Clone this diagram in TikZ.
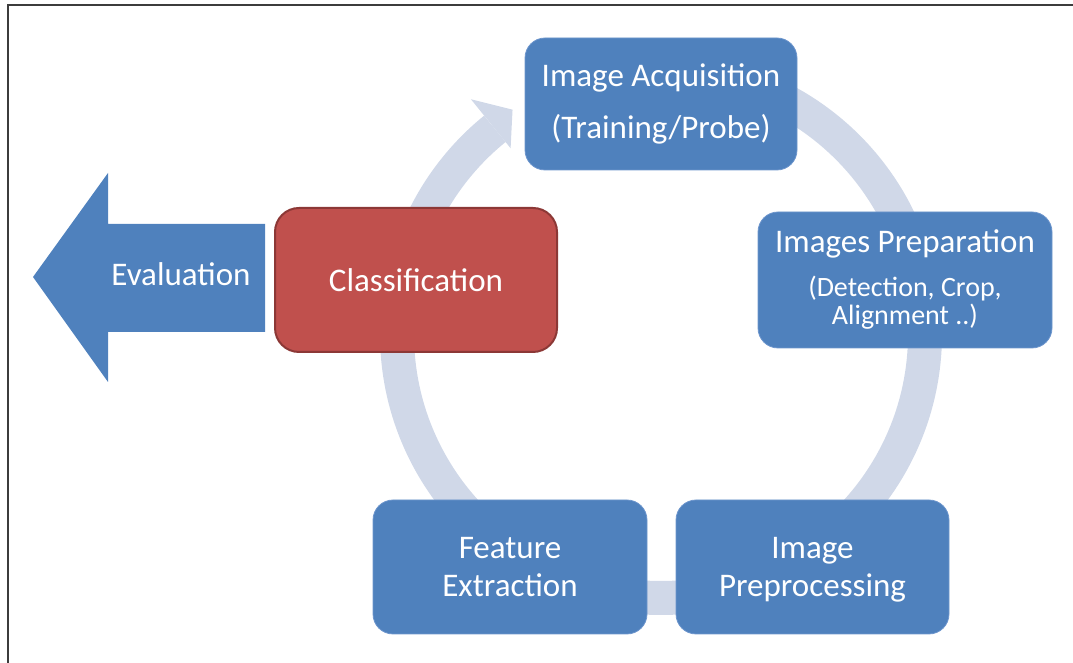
\documentclass[tikz,border=0pt]{standalone}
\usepackage{fontspec}
\setmainfont{Carlito}
\definecolor{boxblue}{RGB}{79,129,189}
\definecolor{boxline}{RGB}{110,150,205}
\definecolor{ringblue}{RGB}{208,216,232}
\definecolor{clsred}{RGB}{192,80,77}
\definecolor{clsedge}{RGB}{140,56,54}
\definecolor{framegray}{RGB}{60,60,60}
\begin{document}
\begin{tikzpicture}[x=1pt,y=1pt,
  stage/.style={rectangle, rounded corners=20pt, fill=boxblue, draw=boxline,
    line width=0.8pt, text=white, align=center, inner sep=0pt,
    font=\fontsize{33}{38}\selectfont},
  redstage/.style={stage, fill=clsred, draw=clsedge, line width=2pt,
    rounded corners=24pt},
  ring/.style={ringblue, line width=34pt}]
\useasboundingbox (0,0) rectangle (1073,663);

% page frame
\draw[framegray, line width=2.5pt] (8,0) -- (8,658) -- (1073,658);

% circular process arrow
\coordinate (hub) at (661,329);
\draw[ring] ([shift={(90:264)}]hub) arc[start angle=90, end angle=-231, radius=264];
\fill[ringblue] ([shift={(-231:239)}]hub) -- ([shift={(-231:302)}]hub)
  -- ([shift={(-236.5:269)}]hub) -- cycle;

% evaluation output arrow
\fill[boxblue] (33,386) -- (108,490) -- (108,439) -- (265,439) -- (265,331)
  -- (108,331) -- (108,281) -- cycle;
\node[text=white, anchor=base, font=\fontsize{33}{38}\selectfont] (eval) at (181,377) {Evaluation};

% process stages
\node[stage, minimum width=272pt, minimum height=132pt,
  font=\fontsize{33}{52}\selectfont] (acq) at (661,559)
  {Image Acquisition\\(Training/Probe)};
\node[stage, minimum width=294pt, minimum height=136pt,
  font=\fontsize{33}{44}\selectfont] (prep) at (905,383)
  {Images Preparation\\{\fontsize{28}{34}\selectfont (Detection, Crop,}\\[-16pt]{\fontsize{28}{34}\selectfont Alignment ..)}};
\node[stage, minimum width=273pt, minimum height=134pt] (preproc) at (812.5,96)
  {Image\\\raisebox{0pt}[\height][0pt]{Preprocessing}};
\node[stage, minimum width=274pt, minimum height=134pt] (feat) at (510,96)
  {Feature\\Extraction};
\node[redstage, minimum width=282pt, minimum height=144pt] (cls) at (416,383)
  {Classification};
\end{tikzpicture}
\end{document}
